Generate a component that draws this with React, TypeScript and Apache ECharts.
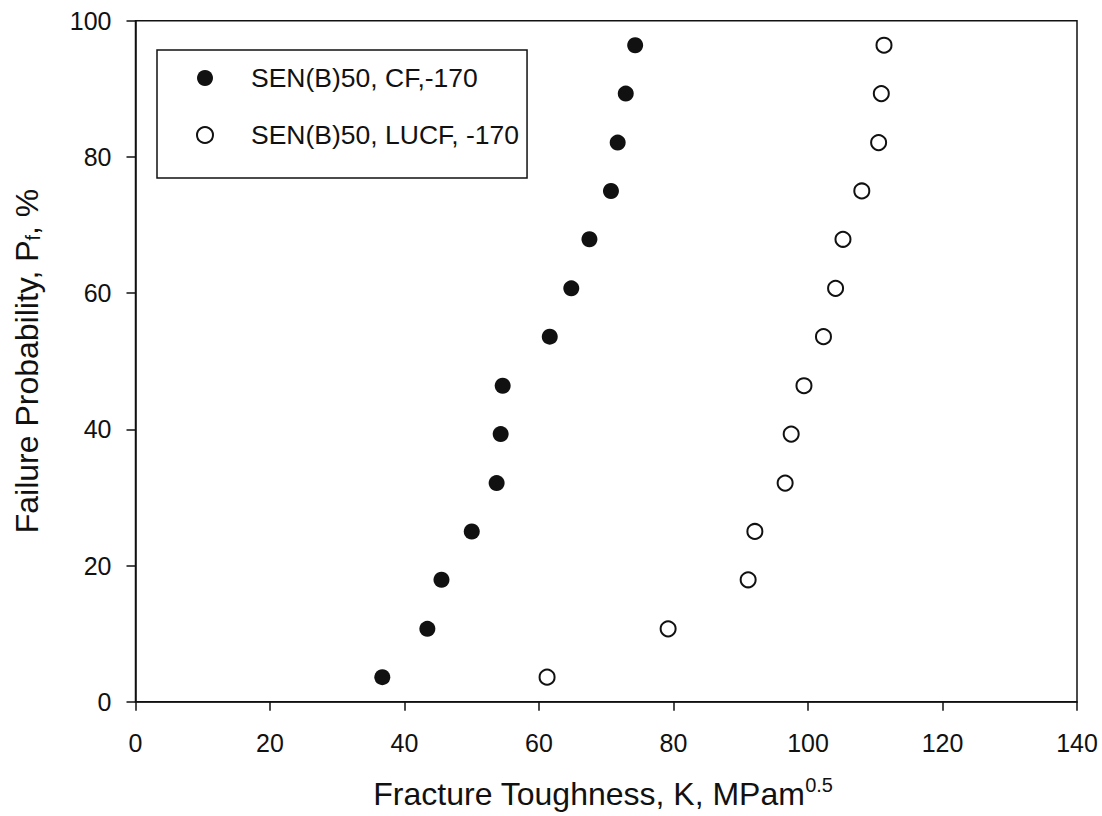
import React, { useEffect, useRef } from "react";
import * as echarts from "echarts";

const seriesNames = ["SEN(B)50, CF,-170", "SEN(B)50, LUCF, -170"];
const probability = [3.6, 10.7, 17.9, 25.0, 32.1, 39.3, 46.4, 53.6, 60.7, 67.9, 75.0, 82.1, 89.3, 96.4];
const toughnessCF = [36.7, 43.4, 45.5, 50.0, 53.7, 54.3, 54.6, 61.6, 64.8, 67.5, 70.7, 71.7, 72.9, 74.3];
const toughnessLUCF = [61.2, 79.2, 91.1, 92.1, 96.6, 97.5, 99.4, 102.3, 104.1, 105.2, 108.0, 110.5, 110.9, 111.3];
const xTicks = { min: 0, max: 140, interval: 20 };
const yTicks = { min: 0, max: 100, interval: 20 };
const xTitle = "Fracture Toughness, K, MPam";
const xTitleSup = "0.5";
const yTitleA = "Failure Probability, P";
const yTitleSub = "f";
const yTitleB = ", %";

const FONT = "Liberation Sans, Arial, Helvetica, sans-serif";

export default function App() {
  const ref = useRef<HTMLDivElement>(null);
  useEffect(() => {
    if (!ref.current) return;
    const chart = echarts.init(ref.current, undefined, { renderer: "svg" });
    const axisCommon = {
      axisLine: { show: true, onZero: false, lineStyle: { color: "#111", width: 1.5 } },
      axisTick: { show: true, inside: false, length: 9, lineStyle: { color: "#111", width: 1.5 } },
      splitLine: { show: false },
      axisLabel: { color: "#111", fontSize: 25, fontFamily: FONT },
    };
    chart.setOption({
      animation: false,
      backgroundColor: "#fff",
      textStyle: { fontFamily: FONT },
      grid: {
        left: 135.5,
        right: 25,
        top: 20.7,
        bottom: 114.3,
        show: true,
        borderColor: "#111",
        borderWidth: 1.5,
        backgroundColor: "transparent",
      },
      xAxis: {
        type: "value",
        ...xTicks,
        ...axisCommon,
        axisLabel: { ...axisCommon.axisLabel, margin: 29 },
      },
      yAxis: {
        type: "value",
        ...yTicks,
        ...axisCommon,
        axisLabel: { ...axisCommon.axisLabel, margin: 24 },
      },
      legend: {
        orient: "vertical",
        left: 157,
        top: 50,
        padding: [13, 8, 28, 39],
        itemGap: 27,
        itemWidth: 16,
        itemHeight: 16,
        borderColor: "#111",
        borderWidth: 1.5,
        textStyle: { color: "#111", fontSize: 26.5, fontFamily: FONT, lineHeight: 30, padding: [0, 0, 0, 33] },
        data: seriesNames,
      },
      series: [
        {
          name: seriesNames[0],
          type: "scatter",
          symbol: "circle",
          symbolSize: 16,
          itemStyle: { color: "#111", borderWidth: 0, opacity: 1 },
          data: toughnessCF.map((x, i) => [x, probability[i]]),
        },
        {
          name: seriesNames[1],
          type: "scatter",
          symbol: "circle",
          symbolSize: 15,
          itemStyle: { color: "#fff", borderColor: "#111", borderWidth: 2, opacity: 1 },
          data: toughnessLUCF.map((x, i) => [x, probability[i]]),
        },
      ],
      graphic: [
        {
          type: "text",
          x: 603,
          y: 794,
          style: {
            text: `{a|${xTitle}}{b|${xTitleSup}}`,
            align: "center",
            verticalAlign: "middle",
            rich: {
              a: { fontSize: 32, fontFamily: FONT, fill: "#111", lineHeight: 38, verticalAlign: "middle" },
              b: { fontSize: 20, fontFamily: FONT, fill: "#111", lineHeight: 20, verticalAlign: "top" },
            },
          },
        },
        {
          type: "text",
          x: 27,
          y: 361,
          rotation: Math.PI / 2,
          style: {
            text: `{a|${yTitleA}}{b|${yTitleSub}}{a|${yTitleB}}`,
            align: "center",
            verticalAlign: "middle",
            rich: {
              a: { fontSize: 32, fontFamily: FONT, fill: "#111", lineHeight: 40, verticalAlign: "middle" },
              b: { fontSize: 20, fontFamily: FONT, fill: "#111", lineHeight: 20, verticalAlign: "bottom", padding: [0, 0, 4, 0] },
            },
          },
        },
      ],
    });
    return () => chart.dispose();
  }, []);
  return (
    <div
      ref={ref}
      style={{ position: "absolute", left: 0, top: 0, width: 1102, height: 816, background: "#fff" }}
    />
  );
}
